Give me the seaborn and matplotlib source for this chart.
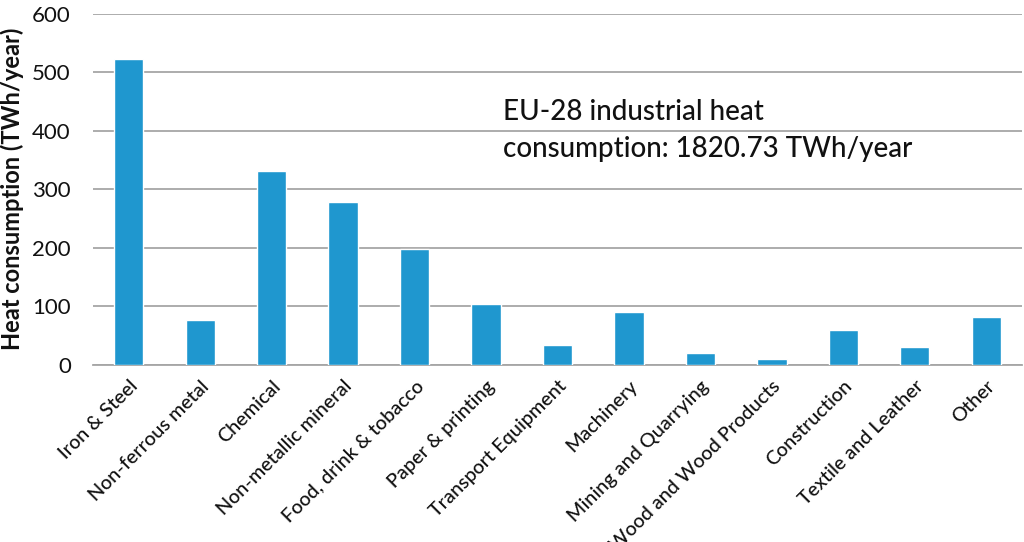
import numpy as np
import pandas as pd
import matplotlib
matplotlib.use('Agg')
import matplotlib.pyplot as plt
import seaborn as sns

# Data
sectors = ['Iron & Steel', 'Non-ferrous metal', 'Chemical', 'Non-metallic mineral',
           'Food, drink & tobacco', 'Paper & printing', 'Transport Equipment',
           'Machinery', 'Mining and Quarrying', 'Wood and Wood Products',
           'Construction', 'Textile and Leather', 'Other']
heat_twh = [522, 77, 331, 279, 198, 104, 34, 90, 21, 10, 60, 31, 82]
y_ticks = [0, 100, 200, 300, 400, 500, 600]

df = pd.DataFrame({'sector': sectors, 'heat': heat_twh})

sns.set_style('white')
plt.rcParams['font.family'] = ['Lato', 'DejaVu Sans']

bar_color = '#1f97cf'
grid_color = '#a6a6a6'
text_color = '#111111'

fig = plt.figure(figsize=(10.24, 5.42), dpi=100)
ax = fig.add_axes([93 / 1024, 177 / 542, 929 / 1024, 351.5 / 542])

sns.barplot(data=df, x='sector', y='heat', color=bar_color, width=0.41,
            saturation=1, ax=ax, zorder=3)

ax.set_ylim(0, 600)
ax.set_xlim(-0.5, len(sectors) - 0.5)
ax.set_yticks(y_ticks)
ax.yaxis.grid(True, color=grid_color, linewidth=1.3, zorder=0)
ax.set_axisbelow(True)

for side in ['top', 'right', 'left']:
    ax.spines[side].set_visible(False)
ax.spines['bottom'].set_color(grid_color)
ax.spines['bottom'].set_linewidth(1.3)

# x ticks: labels at category centres, tick marks at category boundaries
ax.set_xticks(np.arange(len(sectors)))
ax.set_xticklabels(sectors, rotation=45, ha='right', rotation_mode='anchor',
                   fontsize=14.2, color=text_color, fontweight='medium')
ax.set_xticks(np.arange(-0.5, len(sectors), 1), minor=True)
ax.tick_params(axis='x', which='major', length=0, pad=9)
ax.tick_params(axis='x', which='minor', length=4, color=grid_color, width=1.2)
ax.tick_params(axis='y', which='major', length=5, color=grid_color, width=1.3,
               labelsize=16, labelcolor=text_color, pad=11)

ax.set_xlabel('')
ax.set_ylabel('Heat consumption (TWh/year)', fontsize=17, fontweight='bold',
              color=text_color, labelpad=6)

fig.text(503 / 1024, 1 - 120 / 542, 'EU-28 industrial heat', fontweight='medium',
         fontsize=20, color=text_color, ha='left', va='baseline')
fig.text(503 / 1024, 1 - 157 / 542, 'consumption: 1820.73 TWh/year', fontweight='medium',
         fontsize=20, color=text_color, ha='left', va='baseline')

plt.savefig('out.png', dpi=100)
plt.close()
